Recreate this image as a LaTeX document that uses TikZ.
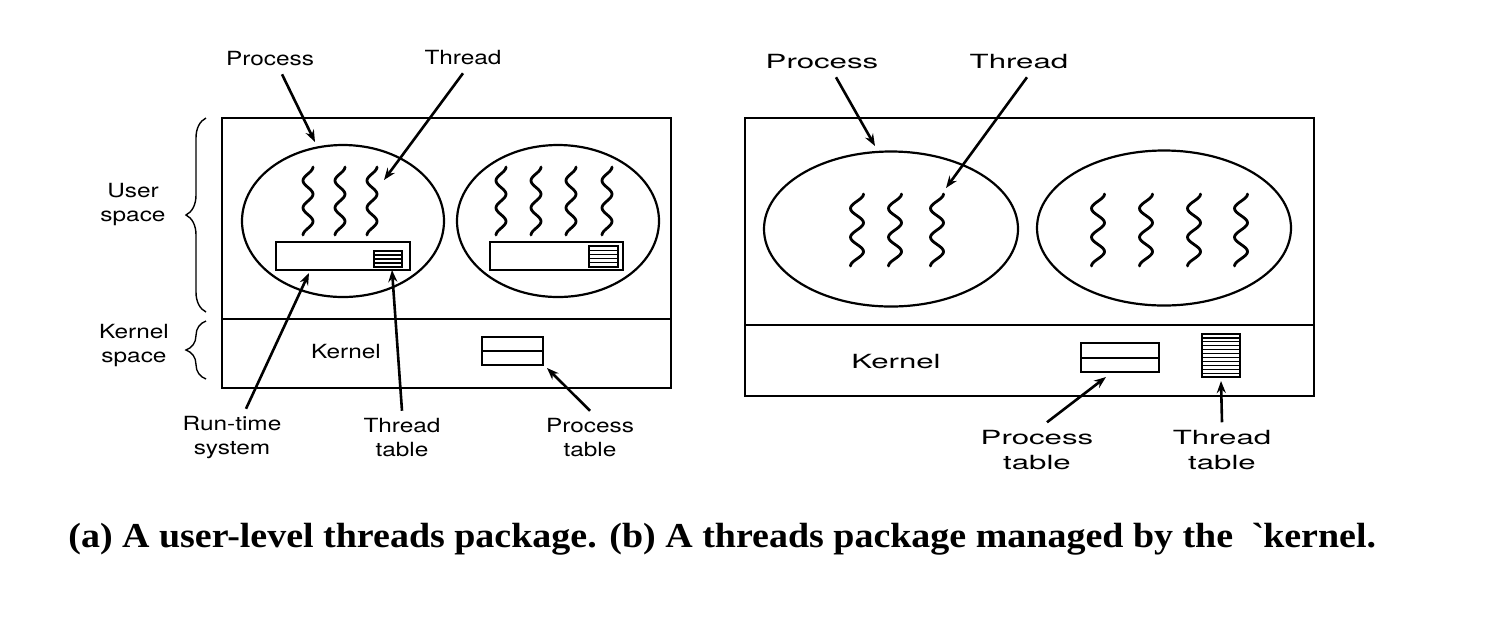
\documentclass[tikz,border=0pt]{standalone}
\usepackage{fontspec}
\setmainfont{Liberation Serif}
\newfontfamily\capfont[FakeStretch=1.085]{Liberation Serif}
\newfontfamily\lblfont[FakeStretch=1.25]{TeX Gyre Heros}
\newfontfamily\lblwidefont[FakeStretch=1.6]{TeX Gyre Heros}
\usetikzlibrary{arrows.meta,shapes.geometric,decorations.pathreplacing}

\tikzset{
  frame/.style={draw, line width=1.2pt},
  proc/.style={draw, ellipse, line width=1.1pt, inner sep=0pt},
  tbl/.style={draw, line width=1pt, inner sep=0pt},
  thread/.style={line width=1.4pt, line cap=round},
  lbl/.style={font=\lblfont\fontsize{9.75}{12}\selectfont, align=center, inner sep=0pt, outer sep=4pt},
  lblwide/.style={font=\lblwidefont\fontsize{9.75}{12.5}\selectfont, align=center, inner sep=0pt, outer sep=4pt},
  pointer/.style={line width=1.3pt, -{Stealth[length=6pt,width=4.5pt]}},
  spacebrace/.style={decorate, decoration={brace, amplitude=10pt}, line width=0.7pt},
}

% one wavy thread: centre x, top y, amplitude, length
\newcommand{\wavythread}[4]{%
  \draw[thread] plot[domain=0:5, samples=51, smooth] ({#1+#3*cos(180*\x)}, {#2+#4*\x/5});}
% table with inner rows: west, top, east, bottom, number of lines
\newcommand{\stripedtable}[5]{%
  \draw[tbl] (#1,#2) rectangle (#3,#4);
  \foreach \k in {1,...,#5}
    \draw[line width=0.6pt] (#1,{#2+(#4-#2)*\k/(#5+1)}) -- (#3,{#2+(#4-#2)*\k/(#5+1)});}

\begin{document}
\begin{tikzpicture}[x=0.5pt, y=-0.5pt]
  \useasboundingbox (0,0) rectangle (1498,618);

  % (a) user-level threads
  \draw[frame] (222,118) rectangle (671,388);
  \draw[frame] (222,319) -- (671,319);
  \node[proc, minimum width=101pt, minimum height=76pt] (procA1) at (343,221) {};
  \node[proc, minimum width=101pt, minimum height=76pt] (procA2) at (558,221) {};
  \foreach \cx in {308,340,372} \wavythread{\cx}{167}{5}{68};
  \foreach \cx in {501,536,571,607} \wavythread{\cx}{167}{5}{68};
  \node[tbl, minimum width=67pt, minimum height=14pt] (rtA1) at (343,256) {};
  \node[tbl, minimum width=66.5pt, minimum height=14pt] (rtA2) at (556.5,256) {};
  \stripedtable{374}{251}{402}{267}{3}
  \stripedtable{589}{246}{618}{267}{4}
  \node[lbl] (kernA) at (346,352) {Kernel};
  \node[tbl, minimum width=30.5pt, minimum height=14pt] (ptA) at (512.5,351) {};
  \draw[line width=1pt] (ptA.west) -- (ptA.east);

  \node[lbl] (procLblA) at (270,59) {Process};
  \node[lbl] (thrLblA) at (463,58) {Thread};
  \node[lbl] (userLbl) at (133,205) {User\\space};
  \node[lbl] (kernLbl) at (134,346) {Kernel\\space};
  \node[lbl] (rtsLbl) at (232,438) {Run-time\\system};
  \node[lbl] (ttLblA) at (402,438) {Thread\\table};
  \node[lbl] (ptLblA) at (590,438) {Process\\table};

  \draw[spacebrace] (206,312) -- (206,118);
  \draw[spacebrace] (206,379) -- (206,321);

  \coordinate (procTipA) at (315,142);
  \coordinate (thrTipA) at (384,180);
  \coordinate (rtsTip) at (309,273);
  \coordinate (ttTipA) at (392,270);
  \coordinate (ptTipA) at (547,368);
  \draw[pointer] ([xshift=6pt]procLblA.south) -- (procTipA);
  \draw[pointer] (thrLblA.south) -- (thrTipA);
  \draw[pointer] ([xshift=7pt]rtsLbl.north) -- (rtsTip);
  \draw[pointer] (ttLblA.north) -- (ttTipA);
  \draw[pointer] (ptLblA.north) -- (ptTipA);

  % (b) kernel-managed threads
  \draw[frame] (745,118) rectangle (1314,396);
  \draw[frame] (745,325) -- (1314,325);
  \node[proc, minimum width=127pt, minimum height=77.5pt] (procB1) at (891,229) {};
  \node[proc, minimum width=127pt, minimum height=77.5pt] (procB2) at (1164,228) {};
  \foreach \cx in {857,895,937} \wavythread{\cx}{194}{6.5}{72};
  \foreach \cx in {1098,1146,1194,1241} \wavythread{\cx}{194}{6.5}{72};
  \node[lblwide] (kernB) at (896,362) {Kernel};
  \node[tbl, minimum width=39pt, minimum height=14.5pt] (ptB) at (1120,357.5) {};
  \draw[line width=1pt] (ptB.west) -- (ptB.east);
  \stripedtable{1202}{334}{1240}{377}{10}

  \node[lblwide] (procLblB) at (822,62) {Process};
  \node[lblwide] (thrLblB) at (1019,62) {Thread};
  \node[lblwide] (ptLblB) at (1037,450) {Process\\table};
  \node[lblwide] (ttLblB) at (1222,450) {Thread\\table};

  \coordinate (procTipB) at (875,146);
  \coordinate (thrTipB) at (946,188);
  \coordinate (ptTipB) at (1106,377);
  \coordinate (ttTipB) at (1221,381);
  \draw[pointer] ([xshift=7pt]procLblB.south) -- (procTipB);
  \draw[pointer] ([xshift=4pt]thrLblB.south) -- (thrTipB);
  \draw[pointer] ([xshift=5pt]ptLblB.north) -- (ptTipB);
  \draw[pointer] (ttLblB.north) -- (ttTipB);

  \node[anchor=base west, inner sep=0pt, font=\capfont\bfseries\fontsize{17.5}{20}\selectfont] (caption) at (68,547)
    {(a) A user-level threads package. (b) A threads package managed by the\hspace{15pt}\llap{\textasciigrave}kernel.};
\end{tikzpicture}
\end{document}
